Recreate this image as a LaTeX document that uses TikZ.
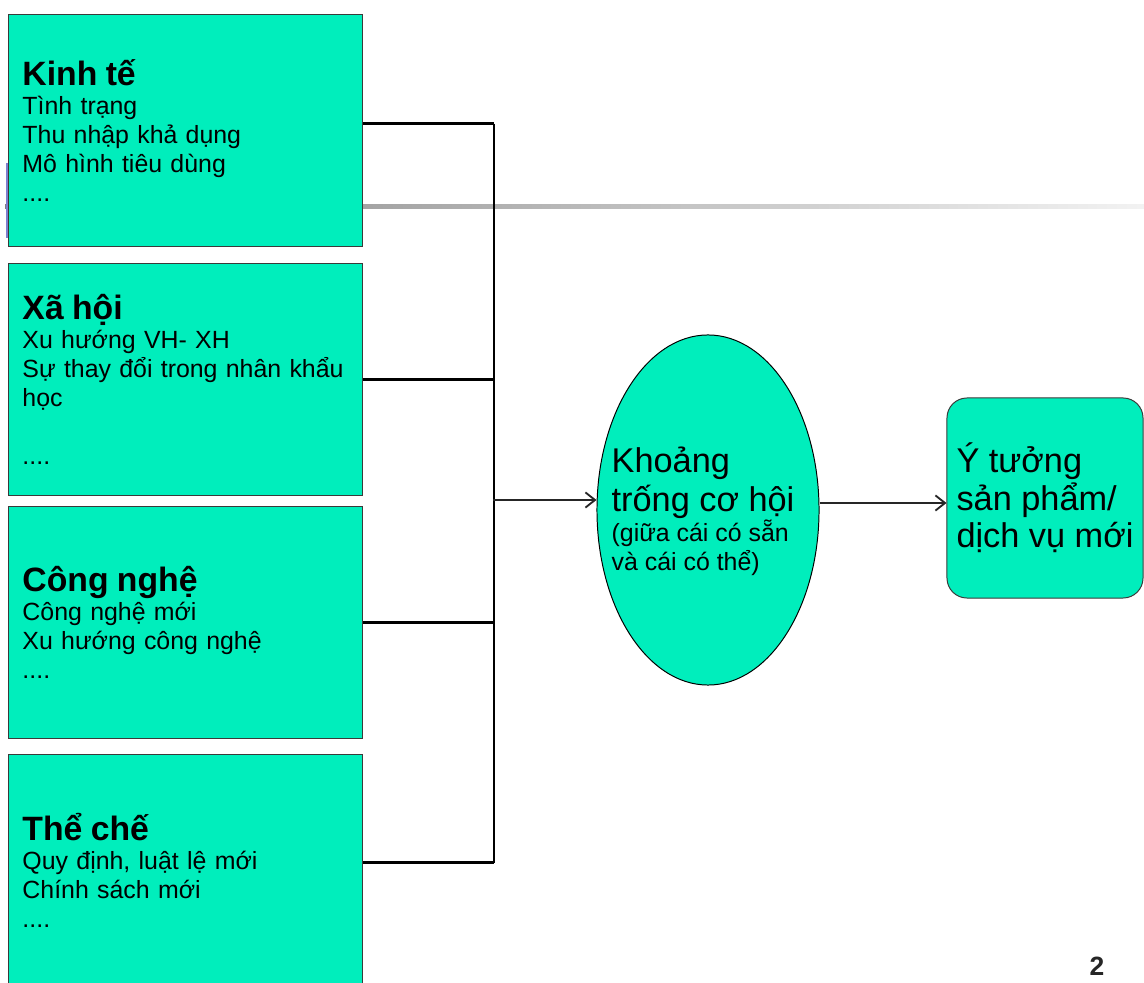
\documentclass[tikz,border=0pt]{standalone}
\usepackage{fontspec}
\setmainfont{Liberation Sans}
\usetikzlibrary{shapes.geometric,arrows.meta}
\definecolor{mint}{HTML}{00EEBC}
\definecolor{rim}{HTML}{3A3A3A}
\newcommand{\factorhead}[1]{{\fontsize{24}{24}\selectfont\bfseries #1}}

\begin{document}
\begin{tikzpicture}[x=0.025cm, y=-0.025cm,
		factor/.style={draw=rim, line width=0.7pt, fill=mint, anchor=north west,
			minimum height=5.8cm, text width=8.15cm, inner xsep=0.35cm, inner ysep=0pt,
			align=left, font=\fontsize{17.7}{20.6}\selectfont},
		link/.style={line width=1.6pt},
		arr/.style={line width=0.9pt, black!85, -{Straight Barb[length=2.4mm, width=3.8mm, line width=1.3pt]}}]
	\useasboundingbox[fill=white] (0,0) rectangle (1144,983);
	\clip (0,0) rectangle (1144,983);
	% rule of the slide, behind the first box
	\shade[left color=black!50, right color=black!5] (5,205) rectangle (1144,209);
	\draw[line width=1.2pt, blue!45!gray!70] (7,163) -- (7,238);
	% the four factors
	\node[factor] (kt) at (8,14) {\factorhead{Kinh tế}\\Tình trạng\\Thu nhập khả dụng\\Mô hình tiêu dùng\\....};
	\node[factor] (xh) at (8,263) {\factorhead{Xã hội}\\Xu hướng VH- XH\\\mbox{Sự thay đổi trong nhân khẩu}\\học\\[20.6pt]....};
	\node[factor] (cn) at (8,506) {\factorhead{Công nghệ}\\Công nghệ mới\\Xu hướng công nghệ\\....};
	\node[factor] (tc) at (8,754) {\factorhead{Thể chế}\\Quy định, luật lệ mới\\Chính sách mới\\....};
	% gap and idea
	\node[draw=black, line width=0.7pt, fill=mint, ellipse, minimum width=5.55cm,
		minimum height=8.75cm, inner sep=0pt] (ell) at (708,510) {};
	\node[align=left, font=\fontsize{24.4}{28.3}\selectfont] (ellT) at (703,511)
		{Khoảng\\trống cơ hội\\[-7pt]{\fontsize{17.7}{20.6}\selectfont (giữa cái có sẵn}\\[-8pt]{\fontsize{17.7}{20.6}\selectfont và cái có thể)}};
	\node[draw=rim, line width=0.7pt, fill=mint, rounded corners=0.5cm, minimum width=4.9cm,
		minimum height=5cm, align=left, font=\fontsize{24.4}{26.6}\selectfont] (idea) at (1045,498)
		{Ý tưởng\\sản phẩm/\\dịch vụ mới};
	% connectors
	\draw[link] ([yshift=0.175cm]kt.east) -- ++(131,0) coordinate (top);
	\draw[link] (xh.east) -- ++(131,0);
	\draw[link] (cn.east) -- ++(131,0);
	\draw[link] ([yshift=0.2cm]tc.east) -- ++(131,0) coordinate (bot);
	\draw[link] (top) -- (bot);
	\coordinate (hub) at (493,500);
	\draw[arr] (hub) -- (hub -| ell.west);
	\draw[arr] (ell.east) ++(0,-7) coordinate (out) -- (out -| idea.west);
	\node[font=\fontsize{18.8}{20}\selectfont\bfseries, text=black!85] (pg) at (1097,966) {2};
\end{tikzpicture}
\end{document}
